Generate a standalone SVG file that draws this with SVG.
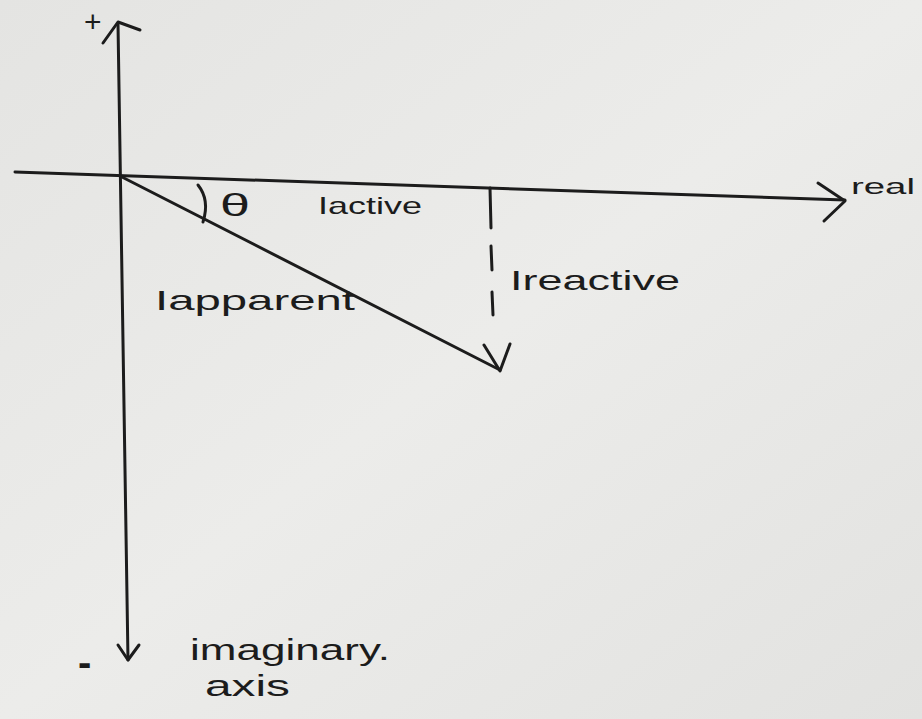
<svg xmlns="http://www.w3.org/2000/svg" width="922" height="719" viewBox="0 0 922 719">
<defs>
<linearGradient id="paper" x1="0" y1="0" x2="1" y2="1">
<stop offset="0" stop-color="#e4e4e2"/>
<stop offset="0.5" stop-color="#ececea"/>
<stop offset="1" stop-color="#e2e2e0"/>
</linearGradient>
<style>
.ink{stroke:#1c1c1c;stroke-width:3;fill:none;stroke-linecap:round;stroke-linejoin:round}
.lbl{font-family:"Liberation Sans","DejaVu Sans",sans-serif;fill:#1c1c1c}
</style>
</defs>
<rect width="922" height="719" fill="url(#paper)"/>
<g id="connectors">
<g id="imag-axis">
<path class="ink" d="M118 24 L128 660"/>
<path class="ink" d="M103 43 L118 22 L140 30"/>
<path class="ink" d="M118 645 L128 660 L139 645"/>
</g>
<g id="real-axis">
<path class="ink" d="M15 172 L845 200"/>
<path class="ink" d="M818 183 L845 201 L824 221"/>
</g>
<g id="apparent-vector">
<path class="ink" d="M120 176 L500 370"/>
<path class="ink" d="M484 345 L500 371 L510 344"/>
</g>
<g id="reactive-dash">
<path class="ink" d="M490 188 L491 228 M491 246 L492 270 M492 292 L493 315" stroke-width="2.5"/>
</g>
<g id="theta-arc">
<path class="ink" d="M198 185 Q210 200 203 222" stroke-width="2.5"/>
</g>
</g>
<g id="label-plus"><text class="lbl" x="84" y="32" font-size="30">+</text></g>
<g id="label-minus"><text class="lbl" x="78" y="676" font-size="40" font-weight="bold">-</text></g>
<g id="label-real"><text class="lbl" x="851" y="194" font-size="22" textLength="64" lengthAdjust="spacingAndGlyphs">real</text></g>
<g id="label-theta"><text class="lbl" x="220" y="216" font-size="32" textLength="30" lengthAdjust="spacingAndGlyphs">θ</text></g>
<g id="label-active"><text class="lbl" x="318" y="214" font-size="24" textLength="104" lengthAdjust="spacingAndGlyphs">Iactive</text></g>
<g id="label-reactive"><text class="lbl" x="510" y="290" font-size="28" textLength="170" lengthAdjust="spacingAndGlyphs">Ireactive</text></g>
<g id="label-apparent"><text class="lbl" x="155" y="310" font-size="28" textLength="200" lengthAdjust="spacingAndGlyphs">Iapparent</text></g>
<g id="label-imaginary">
<text class="lbl" x="190" y="660" font-size="30" textLength="200" lengthAdjust="spacingAndGlyphs">imaginary.</text>
<text class="lbl" x="205" y="696" font-size="30" textLength="85" lengthAdjust="spacingAndGlyphs">axis</text>
</g>
</svg>
